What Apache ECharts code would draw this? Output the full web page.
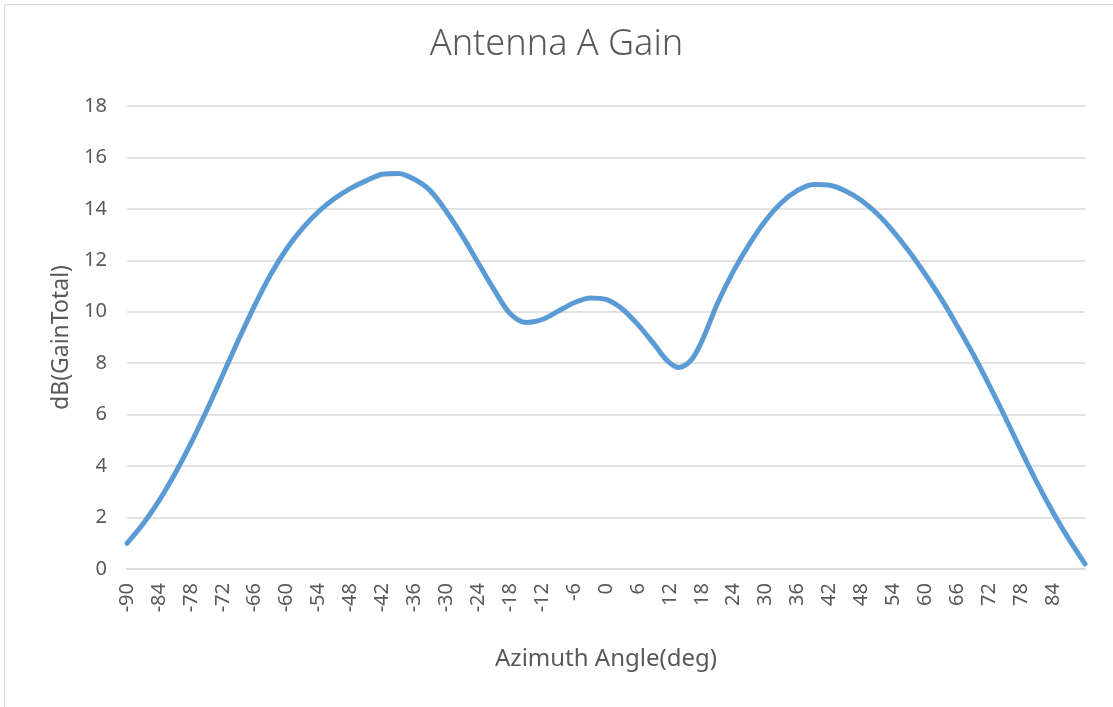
<!DOCTYPE html>
<html>
<head>
<meta charset="utf-8">
<script src="https://cdn.jsdelivr.net/npm/echarts@6/dist/echarts.min.js"></script>
<style>
  html, body { margin: 0; padding: 0; background: #fff; }
  #frame { position: absolute; left: 4px; top: 4px; width: 1200px; height: 800px; border: 1px solid #d9d9d9; }
  #antenna_gain { position: absolute; left: 0; top: 0; width: 1113px; height: 707px; }
</style>
</head>
<body>
<div id="frame"></div>
<div id="antenna_gain"></div>
<script>
  // azimuth angle (deg) and gain (dB)
  const angles = [-90, -87, -84, -81, -78, -75, -72, -69, -66, -63, -60, -57, -54, -51, -48, -45, -42, -39, -36, -33,
    -30, -27, -24, -21, -18, -15, -12, -9, -6, -3, 0, 3, 6, 9, 11.5, 13.7, 16, 18, 21, 24, 27,
    30, 33, 36, 39, 42, 45, 48, 51, 54, 57, 60, 63, 66, 69, 72, 75, 78, 81, 84, 87, 90];
  const gain = [1.0, 1.75, 2.65, 3.7, 4.88, 6.18, 7.55, 8.93, 10.25, 11.45, 12.45, 13.25, 13.9, 14.4, 14.8, 15.1, 15.35, 15.38, 15.15, 14.7,
    13.9, 12.95, 11.9, 10.85, 9.92, 9.58, 9.7, 10.02, 10.35, 10.54, 10.48, 10.12, 9.5, 8.75, 8.1, 7.83, 8.12, 8.85, 10.35, 11.6, 12.65,
    13.55, 14.25, 14.72, 14.95, 14.92, 14.7, 14.33, 13.8, 13.12, 12.33, 11.45, 10.5, 9.45, 8.35, 7.15, 5.9, 4.6, 3.35, 2.2, 1.15, 0.2];
  const yTicks = { min: 0, max: 18, interval: 2 };
  const xTicks = { min: -90, max: 90, interval: 6 };

  const textColor = '#595959';
  const gridColor = '#d9d9d9';
  const font = 'Noto Sans';

  const option = {
    animation: false,
    title: {
      text: 'Antenna A Gain',
      left: 'center',
      top: 22,
      textStyle: {
        color: textColor,
        fontFamily: font,
        fontWeight: 300,
        fontSize: 36
      }
    },
    grid: {
      left: 127,
      right: 28,
      top: 106,
      bottom: 138
    },
    xAxis: {
      type: 'value',
      min: xTicks.min,
      max: xTicks.max,
      interval: xTicks.interval,
      name: 'Azimuth Angle(deg)',
      nameLocation: 'middle',
      nameGap: 78,
      nameTextStyle: { color: textColor, fontFamily: font, fontSize: 24 },
      axisLine: { lineStyle: { color: gridColor, width: 1.5 } },
      axisTick: { show: false },
      splitLine: { show: false },
      axisLabel: {
        rotate: 90,
        margin: 14,
        showMaxLabel: false,
        color: textColor,
        fontFamily: font,
        fontSize: 20
      }
    },
    yAxis: {
      type: 'value',
      min: yTicks.min,
      max: yTicks.max,
      interval: yTicks.interval,
      name: 'dB(GainTotal)',
      nameLocation: 'middle',
      nameGap: 54,
      nameTextStyle: { color: textColor, fontFamily: font, fontSize: 23 },
      axisLine: { show: false },
      axisTick: { show: false },
      axisLabel: {
        margin: 20,
        color: textColor,
        fontFamily: font,
        fontSize: 20
      },
      splitLine: { lineStyle: { color: gridColor, width: 1.5 } }
    },
    series: [
      {
        name: 'Gain',
        type: 'line',
        smooth: 0.3,
        showSymbol: false,
        lineStyle: { color: '#5b9bd5', width: 5, cap: 'round' },
        data: angles.map((a, i) => [a, gain[i]])
      }
    ]
  };

  const chart = echarts.init(document.getElementById('antenna_gain'));
  chart.setOption(option);
  window.addEventListener('resize', function () {
    chart.resize();
  });
</script>
</body>
</html>
